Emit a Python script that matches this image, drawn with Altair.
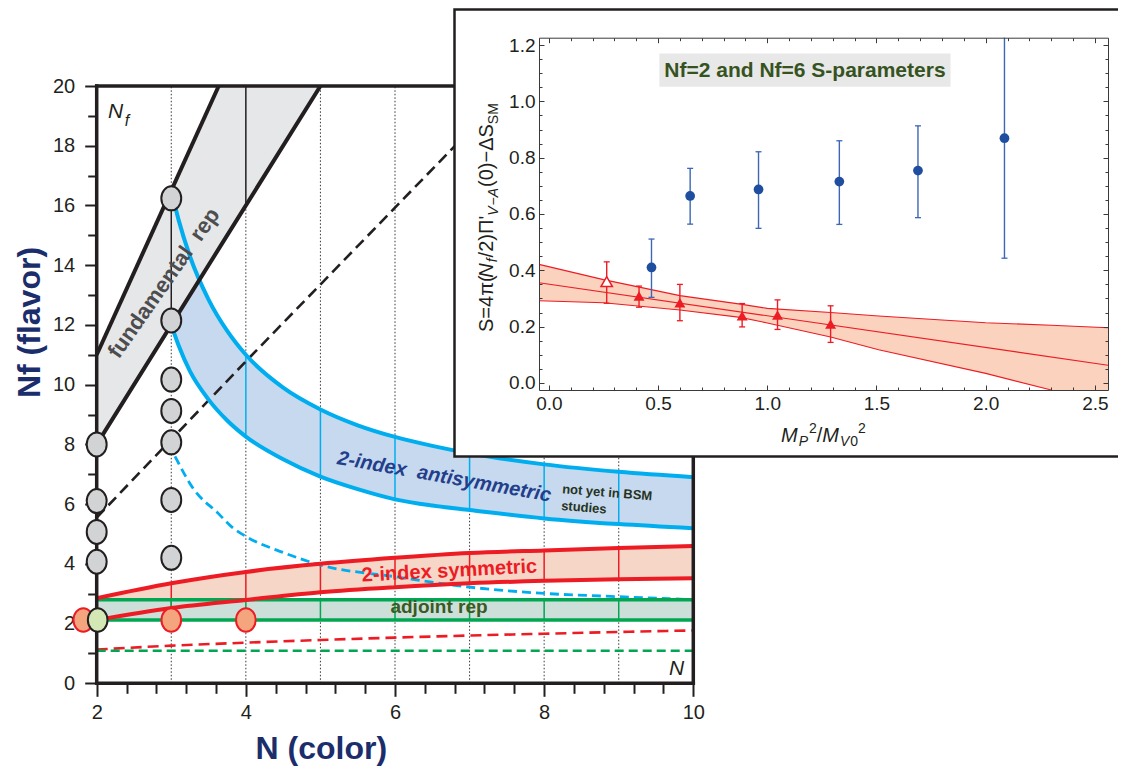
import altair as alt
import pandas as pd

FONT = "Liberation Sans"
INK = "#231f20"
W, H = 1110, 758

# ---------------- main panel: values ----------------
x_ticks = [2, 4, 6, 8, 10]
x_minor = [2.4, 2.8, 3.2, 3.6, 4.4, 4.8, 5.2, 5.6, 6.4, 6.8, 7.2, 7.6, 8.4, 8.8, 9.2, 9.6]
y_ticks = [0, 2, 4, 6, 8, 10, 12, 14, 16, 18, 20]
y_minor = [1, 3, 5, 7, 9, 11, 13, 15, 17, 19]
grid_N = [3, 4, 5, 6, 7, 8, 9]

fund_N = [2.0, 3.636, 5.0]
fund_lo = [8.0, 14.545, 20.0]
fund_up = [11.0, 20.0, 20.0]
fund_dash_N = [2.0, 4.0, 7.0]
fund_dash = [5.55, 10.78, 18.5]
fund_vert_N = [3.0, 4.0]
fund_vert_lo = [12.2, 16.0]
fund_vert_up = [16.2, 20.0]

anti_N = [3.0, 3.1, 3.25, 3.5, 3.75, 4.0, 4.5, 5.0, 5.5, 6.0, 6.5, 7.0, 8.0, 9.0, 10.0]
anti_up = [16.5, 15.5, 14.3, 12.85, 11.8, 11.0, 9.9, 9.17, 8.64, 8.25, 7.95, 7.7, 7.33, 7.08, 6.9]
anti_lo = [12.0, 11.3, 10.45, 9.5, 8.8, 8.26, 7.5, 6.92, 6.5, 6.16, 5.95, 5.8, 5.52, 5.33, 5.19]
anti_dash_N = [3.05, 3.3, 3.63, 3.81, 4.0, 4.5, 5.0, 6.0, 7.0, 8.0, 9.0, 10.0]
anti_dash = [7.6, 6.5, 5.69, 5.24, 4.92, 4.38, 3.96, 3.57, 3.22, 3.01, 2.9, 2.8]
anti_vert_N = [4, 5, 6, 7, 8, 9]

sym_N = [2, 3, 4, 5, 6, 7, 8, 9, 10]
sym_up = [2.85, 3.35, 3.73, 4.0, 4.2, 4.36, 4.45, 4.53, 4.6]
sym_lo = [2.12, 2.52, 2.79, 3.05, 3.22, 3.35, 3.43, 3.48, 3.52]
sym_dash = [1.13, 1.26, 1.36, 1.45, 1.53, 1.6, 1.66, 1.72, 1.77]
sym_vert_N = [3, 4, 5, 6, 7, 8, 9]

adj_N = [2, 3, 4, 5, 6, 7, 8, 9, 10]
adj_up = [2.8] * 9
adj_lo = [2.12] * 9
adj_dash = [1.09] * 9
adj_vert_N = [3, 4, 5, 6, 7, 8, 9]

gray_N = [2, 2, 2, 2, 3, 3, 3, 3, 3, 3, 3]
gray_Nf = [8.0, 6.1, 5.07, 4.07, 16.24, 12.15, 10.17, 9.12, 8.07, 6.14, 4.2]
orange_N = [1.82, 3.0, 4.0]
orange_Nf = [2.12, 2.12, 2.12]
lime_N = [2.013]
lime_Nf = [2.12]

# ---------------- inset: values ----------------
ix_ticks = [0.0, 0.5, 1.0, 1.5, 2.0, 2.5]
iy_ticks = [0.0, 0.2, 0.4, 0.6, 0.8, 1.0, 1.2]
ix_minor = [round(0.1 * i, 2) for i in range(1, 26) if i % 5]
iy_minor = [round(0.05 * i, 2) for i in range(1, 25) if i % 4]

fit_x = [-0.045, 0.25, 0.6, 0.877, 1.0, 1.29, 1.51, 2.0, 2.30, 2.56]
fit_up = [0.421, 0.367, 0.31, 0.28, 0.265, 0.25, 0.238, 0.214, 0.205, 0.196]
fit_lo = [0.292, 0.285, 0.259, 0.233, 0.213, 0.163, 0.118, 0.034, -0.025, -0.025]
fit_mid_x = [-0.045, 2.56]
fit_mid = [0.356, 0.063]

nf6_x = [0.47, 0.647, 0.96, 1.33, 1.69, 2.086]
nf6_y = [0.41, 0.664, 0.687, 0.715, 0.754, 0.869]
nf6_lo = [0.304, 0.564, 0.549, 0.563, 0.587, 0.443]
nf6_hi = [0.511, 0.762, 0.821, 0.86, 0.913, 1.226]

nf2_x = [0.413, 0.60, 0.885, 1.047, 1.29]
nf2_y = [0.309, 0.285, 0.239, 0.241, 0.209]
nf2_lo = [0.269, 0.221, 0.199, 0.19, 0.144]
nf2_hi = [0.344, 0.35, 0.282, 0.295, 0.274]

nf2o_x = [0.265]
nf2o_y = [0.36]
nf2o_lo = [0.283]
nf2o_hi = [0.43]

# ---------------- scales ----------------
MX = alt.Scale(domain=[2, 10], range=[88.7, 685.3], nice=False, zero=False)
MY = alt.Scale(domain=[0, 20], range=[675.3, 78.0], nice=False, zero=False)
IX = alt.Scale(domain=[-0.045, 2.56], range=[531.0, 1100.0], nice=False, zero=False)
IY = alt.Scale(domain=[-0.025, 1.226], range=[382.0, 29.7], nice=False, zero=False)


def mx(f, axis=None):
    return alt.X(f, type="quantitative", scale=MX, axis=axis)


def my(f, axis=None):
    return alt.Y(f, type="quantitative", scale=MY, axis=axis)


def ix(f, axis=None):
    return alt.X(f, type="quantitative", scale=IX, axis=axis)


def iy(f, axis=None):
    return alt.Y(f, type="quantitative", scale=IY, axis=axis)


ONE = pd.DataFrame({"k": [0]})

# ---------------- main axes ----------------
MAIN_X_AXIS = alt.Axis(orient="bottom", offset=-82.7, values=x_ticks, tickSize=13, tickWidth=2,
                       tickColor=INK, domain=False,
                       labelFont=FONT, labelFontSize=20, labelColor=INK, labelPadding=6,
                       labelFlush=False, labelOverlap=False, grid=False, zindex=0,
                       title="N (color)", titleFont=FONT, titleFontSize=32, titleFontWeight="bold",
                       titleColor="#1c2d6b", titleX=312.8, titleY=75.5, titleAlign="center",
                       titleBaseline="alphabetic", titleAngle=0)
MAIN_Y_AXIS = alt.Axis(orient="left", offset=-88.7, values=y_ticks, tickSize=12, tickWidth=2,
                       tickColor=INK, domain=False,
                       labelFont=FONT, labelFontSize=20, labelColor=INK, labelPadding=10,
                       labelOverlap=False, grid=False, zindex=0,
                       title="Nf (flavor)", titleFont=FONT, titleFontSize=32, titleFontWeight="bold",
                       titleColor="#1c2d6b", titleX=-57.2, titleY=314, titleAlign="center",
                       titleBaseline="alphabetic", titleAngle=270)

grid_df = pd.DataFrame({"N": grid_N, "a": [0] * len(grid_N), "b": [20] * len(grid_N)})
fund_df = pd.DataFrame({"N": fund_N, "lo": fund_lo, "up": fund_up})
fund_dash_df = pd.DataFrame({"N": fund_dash_N, "v": fund_dash})
fund_vert_df = pd.DataFrame({"N": fund_vert_N, "lo": fund_vert_lo, "up": fund_vert_up})
anti_df = pd.DataFrame({"N": anti_N, "lo": anti_lo, "up": anti_up})
anti_dash_df = pd.DataFrame({"N": anti_dash_N, "v": anti_dash})
anti_vert_df = anti_df[anti_df["N"].isin(anti_vert_N)]
sym_df = pd.DataFrame({"N": sym_N, "lo": sym_lo, "up": sym_up, "d": sym_dash})
sym_vert_df = sym_df[sym_df["N"].isin(sym_vert_N)]
adj_df = pd.DataFrame({"N": adj_N, "lo": adj_lo, "up": adj_up, "d": adj_dash})
adj_vert_df = adj_df[adj_df["N"].isin(adj_vert_N)]
frame_h = pd.DataFrame({"a": [2, 2], "b": [10, 10], "y": [0, 20]})
frame_v = pd.DataFrame({"x": [2, 10], "a": [0, 0], "b": [20, 20]})
gray_df = pd.DataFrame({"N": gray_N, "Nf": gray_Nf})
orange_df = pd.DataFrame({"N": orange_N, "Nf": orange_Nf})
lime_df = pd.DataFrame({"N": lime_N, "Nf": lime_Nf})

CYAN, BLUEF = "#00aeef", "#c6d9ee"
RED, REDF = "#ed1c24", "#f6d6c7"
GREEN, GREENF = "#00a651", "#cddfd9"
GRAYF = "#e6e7e8"
ELL = "M-0.83,0A0.83,1,0,1,0,0.83,0A0.83,1,0,1,0,-0.83,0Z"

main_layers = [
    alt.Chart(grid_df).mark_rule(color=INK, strokeWidth=0.9, strokeDash=[1.5, 2]).encode(
        x=mx("N"), y=my("a"), y2=alt.Y2("b")),
    alt.Chart(anti_df).mark_area(color=BLUEF, interpolate="monotone").encode(
        x=mx("N"), y=my("lo"), y2=alt.Y2("up")),
    alt.Chart(fund_df).mark_area(color=GRAYF).encode(x=mx("N"), y=my("lo"), y2=alt.Y2("up")),
    alt.Chart(sym_df).mark_area(color=REDF, interpolate="monotone").encode(
        x=mx("N"), y=my("lo"), y2=alt.Y2("up")),
    alt.Chart(adj_df).mark_area(color=GREENF).encode(x=mx("N"), y=my("lo"), y2=alt.Y2("up")),
    alt.Chart(fund_vert_df).mark_rule(color=INK, strokeWidth=1.5).encode(
        x=mx("N"), y=my("lo"), y2=alt.Y2("up")),
    alt.Chart(anti_vert_df).mark_rule(color=CYAN, strokeWidth=1.5).encode(
        x=mx("N"), y=my("lo"), y2=alt.Y2("up")),
    alt.Chart(sym_vert_df).mark_rule(color=RED, strokeWidth=1.5).encode(
        x=mx("N"), y=my("lo"), y2=alt.Y2("up")),
    alt.Chart(adj_vert_df).mark_rule(color=GREEN, strokeWidth=1.5).encode(
        x=mx("N"), y=my("lo"), y2=alt.Y2("up")),
    alt.Chart(fund_dash_df).mark_line(color=INK, strokeWidth=2.6, strokeDash=[11, 6]).encode(
        x=mx("N"), y=my("v")),
    alt.Chart(anti_dash_df).mark_line(color=CYAN, strokeWidth=2.8, strokeDash=[9, 5],
                                      interpolate="monotone").encode(x=mx("N"), y=my("v")),
    alt.Chart(sym_df).mark_line(color=RED, strokeWidth=2.6, strokeDash=[11, 6],
                                interpolate="monotone").encode(x=mx("N"), y=my("d")),
    alt.Chart(adj_df).mark_line(color=GREEN, strokeWidth=2.6, strokeDash=[9, 5]).encode(
        x=mx("N"), y=my("d")),
    alt.Chart(adj_df).mark_line(color=GREEN, strokeWidth=3.5).encode(x=mx("N"), y=my("up")),
    alt.Chart(adj_df).mark_line(color=GREEN, strokeWidth=3.5).encode(x=mx("N"), y=my("lo")),
    alt.Chart(sym_df).mark_line(color=RED, strokeWidth=4, interpolate="monotone").encode(
        x=mx("N"), y=my("up")),
    alt.Chart(sym_df).mark_line(color=RED, strokeWidth=4, interpolate="monotone").encode(
        x=mx("N"), y=my("lo")),
    alt.Chart(anti_df).mark_line(color=CYAN, strokeWidth=4, interpolate="monotone").encode(
        x=mx("N"), y=my("up")),
    alt.Chart(anti_df).mark_line(color=CYAN, strokeWidth=4, interpolate="monotone").encode(
        x=mx("N"), y=my("lo")),
    alt.Chart(fund_df).mark_line(color=INK, strokeWidth=4).encode(x=mx("N"), y=my("lo")),
    alt.Chart(fund_df.iloc[:2]).mark_line(color=INK, strokeWidth=4).encode(x=mx("N"), y=my("up")),
    alt.Chart(frame_h).mark_rule(color=INK, strokeWidth=3.5, strokeCap="square").encode(
        x=mx("a"), x2=alt.X2("b"), y=my("y")),
    alt.Chart(frame_v).mark_rule(color=INK, strokeWidth=3.5, strokeCap="square").encode(
        x=mx("x"), y=my("a"), y2=alt.Y2("b")),
    alt.Chart(gray_df).mark_point(shape=ELL, size=576, filled=True, fill="#d1d3d4", stroke=INK,
                                  strokeWidth=2, opacity=1).encode(x=mx("N"), y=my("Nf")),
    alt.Chart(orange_df).mark_point(shape=ELL, size=560, filled=True, fill="#f4a57e", stroke=RED,
                                    strokeWidth=2, opacity=1).encode(x=mx("N"), y=my("Nf")),
    alt.Chart(lime_df).mark_point(shape=ELL, size=560, filled=True, fill="#d3e8b4", stroke=INK,
                                  strokeWidth=2, opacity=1).encode(x=mx("N"), y=my("Nf")),
]


def mtext(txt, n, nf, **kw):
    df = pd.DataFrame({"N": [n], "Nf": [nf], "t": [txt]})
    return alt.Chart(df).mark_text(font=FONT, **kw).encode(x=mx("N"), y=my("Nf"), text="t:N")


main_layers += [
    mtext("fundamental\u00a0 rep", 2.90, 13.4, fontSize=22, fontWeight="bold", color="#4d4d4f",
          angle=305, align="center", baseline="middle"),
    mtext("2-index\u00a0 antisymmetric", 6.66, 6.91, fontSize=20, fontWeight="bold",
          fontStyle="italic", color="#233e8b", angle=10, align="center", baseline="middle"),
    mtext("not yet in BSM", 8.242, 6.50, fontSize=13, fontWeight="bold", color="#26331f",
          angle=4.6, align="left", baseline="middle"),
    mtext("studies", 8.229, 5.94, fontSize=13, fontWeight="bold", color="#26331f",
          angle=4.6, align="left", baseline="middle"),
    mtext("2-index symmetric", 6.73, 3.76, fontSize=20, fontWeight="bold", color=RED,
          angle=357, align="center", baseline="middle"),
    mtext("adjoint rep", 6.59, 2.55, fontSize=19, fontWeight="bold", color="#3a5a24",
          align="center", baseline="middle"),
    mtext("N", 2.151, 18.93, fontSize=21, fontStyle="italic", color=INK, align="left",
          baseline="alphabetic"),
    mtext("f", 2.375, 18.66, fontSize=16, fontStyle="italic", color=INK, align="left",
          baseline="alphabetic"),
    mtext("N", 9.876, 0.28, fontSize=21, fontStyle="italic", color=INK, align="right",
          baseline="alphabetic"),
]
main = alt.layer(*main_layers)

AXDF = pd.DataFrame({"x": [2.0], "y": [0.0]})
# main axes: labelled major ticks, then minor ticks (independent copies of the same scales)
main_axes = alt.Chart(AXDF).mark_point(opacity=0).encode(
    x=mx("x", MAIN_X_AXIS), y=my("y", MAIN_Y_AXIS))
main_minor = alt.Chart(AXDF).mark_point(opacity=0).encode(
    x=mx("x", alt.Axis(orient="bottom", offset=-82.7, values=x_minor, tickSize=10, tickWidth=2,
                        tickColor=INK, labels=False, domain=False, grid=False, title=None,
                        zindex=0)),
    y=my("y", alt.Axis(orient="left", offset=-88.7, values=y_minor, tickSize=9, tickWidth=2,
                        tickColor=INK, labels=False, domain=False, grid=False, title=None,
                        zindex=0)),
)

# ---------------- inset ----------------
inset_box = alt.Chart(ONE).mark_rect(fill="white", stroke=INK, strokeWidth=2.5).encode(
    x=alt.value(446.5), x2=alt.value(1125), y=alt.value(1.5), y2=alt.value(448.5))

FR = "#3a3a3a"
INS_X_AXIS = alt.Axis(orient="bottom", offset=-376, values=ix_ticks, format=".1f", ticks=False,
                      domainColor=FR, domainWidth=1, labelFont=FONT, labelFontSize=19,
                      labelColor=INK, labelPadding=4, labelFlush=False, labelOverlap=False,
                      grid=False, title=None, zindex=2)
INS_Y_AXIS = alt.Axis(orient="left", offset=-531, values=iy_ticks, format=".1f", ticks=False,
                      domainColor=FR, domainWidth=1, labelFont=FONT, labelFontSize=19,
                      labelColor=INK, labelPadding=4, labelOverlap=False, grid=False,
                      title=None, zindex=2)

fit_df = pd.DataFrame({"x": fit_x, "lo": fit_lo, "up": fit_up})
fit_mid_df = pd.DataFrame({"x": fit_mid_x, "v": fit_mid})
nf6_df = pd.DataFrame({"x": nf6_x, "y": nf6_y, "lo": nf6_lo, "hi": nf6_hi})
nf2_df = pd.DataFrame({"x": nf2_x, "y": nf2_y, "lo": nf2_lo, "hi": nf2_hi})
nf2o_df = pd.DataFrame({"x": nf2o_x, "y": nf2o_y, "lo": nf2o_lo, "hi": nf2o_hi})
nf6_caps = pd.DataFrame({"x": nf6_x + nf6_x[:-1], "c": nf6_lo + nf6_hi[:-1]})
nf2_caps = pd.DataFrame({"x": nf2_x + nf2o_x + nf2_x + nf2o_x,
                         "c": nf2_lo + nf2o_lo + nf2_hi + nf2o_hi})
title_box = pd.DataFrame({"a": [0.506], "b": [1.839], "c": [1.052], "d": [1.170]})
title_txt = pd.DataFrame({"x": [1.1725], "y": [1.085], "t": ["Nf=2 and Nf=6 S-parameters"]})

BLUE, BLUEBAR = "#1f4e9f", "#3d66b5"
inset = alt.layer(
    alt.Chart(fit_df).mark_area(color="#fbd2be").encode(x=ix("x"), y=iy("lo"), y2=alt.Y2("up")),
    alt.Chart(fit_df).mark_line(color=RED, strokeWidth=1.1).encode(x=ix("x"), y=iy("up")),
    alt.Chart(fit_df.iloc[:-1]).mark_line(color=RED, strokeWidth=1.1).encode(x=ix("x"), y=iy("lo")),
    alt.Chart(fit_mid_df).mark_line(color=RED, strokeWidth=1.1).encode(x=ix("x"), y=iy("v")),
    alt.Chart(title_box).mark_rect(color="#e7e8e7").encode(
        x=ix("a"), x2=alt.X2("b"), y=iy("c"), y2=alt.Y2("d")),
    alt.Chart(title_txt).mark_text(font=FONT, fontSize=21, fontWeight="bold", color="#36531f",
                                   align="center", baseline="alphabetic").encode(
        x=ix("x"), y=iy("y"), text="t:N"),
    alt.Chart(nf6_df).mark_rule(color=BLUEBAR, strokeWidth=1.4).encode(
        x=ix("x"), y=iy("lo"), y2=alt.Y2("hi")),
    alt.Chart(nf6_caps).mark_tick(color=BLUEBAR, orient="horizontal", size=6, thickness=1.3,
                                  opacity=1).encode(x=ix("x"), y=iy("c")),
    alt.Chart(nf6_df).mark_point(shape="circle", size=95, filled=True, color=BLUE,
                                 opacity=1).encode(x=ix("x"), y=iy("y")),
    alt.Chart(nf2_df).mark_rule(color=RED, strokeWidth=1.4).encode(
        x=ix("x"), y=iy("lo"), y2=alt.Y2("hi")),
    alt.Chart(nf2o_df).mark_rule(color=RED, strokeWidth=1.4).encode(
        x=ix("x"), y=iy("lo"), y2=alt.Y2("hi")),
    alt.Chart(nf2_caps).mark_tick(color=RED, orient="horizontal", size=6, thickness=1.3,
                                  opacity=1).encode(x=ix("x"), y=iy("c")),
    alt.Chart(nf2_df).mark_point(shape="triangle-up", size=120, filled=True, color=RED,
                                 opacity=1).encode(x=ix("x"), y=iy("y")),
    alt.Chart(nf2o_df).mark_point(shape="triangle-up", size=130, filled=True, fill="white",
                                  stroke=RED, strokeWidth=1.5, opacity=1).encode(
        x=ix("x"), y=iy("y")),
)

inset_axes = alt.Chart(pd.DataFrame({"x": [1.0], "y": [0.5]})).mark_point(opacity=0).encode(
    x=ix("x", INS_X_AXIS), y=iy("y", INS_Y_AXIS))


def tick_layer(xorient, xoff, xvals, yorient, yoff, yvals, size, domain):
    common = dict(tickSize=size, tickWidth=1, tickColor=FR, labels=False, domain=domain,
                  domainColor=FR, domainWidth=1, grid=False, title=None, zindex=2)
    return alt.Chart(pd.DataFrame({"x": [1.0], "y": [0.5]})).mark_point(opacity=0).encode(
        x=ix("x", alt.Axis(orient=xorient, offset=xoff, values=xvals, **common)),
        y=iy("y", alt.Axis(orient=yorient, offset=yoff, values=yvals, **common)),
    )


inset_ticks = [
    tick_layer("top", -382, ix_ticks, "right", -579, iy_ticks, 5, False),
    tick_layer("top", -382, ix_minor, "right", -579, iy_minor, 3, False),
    tick_layer("bottom", -728.3, ix_ticks, "left", -1100, iy_ticks, 5, True),
    tick_layer("bottom", -728.3, ix_minor, "left", -1100, iy_minor, 3, False),
]

# ---------------- inset axis titles (pieces for sub/superscripts) ----------------
AW = {"S": 667, "=": 584, "4": 556, "π": 573, "(": 333, ")": 333, "N": 722, "f": 278, "/": 278,
      "2": 556, "Π": 722, "'": 191, "V": 667, "−": 584, "A": 667, "0": 556, "Δ": 668, "M": 833,
      "P": 667}


def tw(s, size):
    return sum(AW.get(c, 556) for c in s) / 1000.0 * size


def piece(txt, px, py, size, style, angle):
    return alt.Chart(ONE).mark_text(font=FONT, fontSize=size, fontStyle=style, color=INK,
                                    angle=angle, align="left", baseline="alphabetic").encode(
        x=alt.value(px), y=alt.value(py), text=alt.value(txt))


ytitle_pieces = [("S=4π(", 20, "normal", 0), ("N", 20, "italic", 0), ("f", 14, "italic", 4),
                 ("/2)Π'", 20, "normal", 0), ("V", 14, "italic", 5), ("−", 14, "normal", 5),
                 ("A", 14, "italic", 5), ("(0)−ΔS", 20, "normal", 0), ("SM", 14, "normal", 5)]
xtitle_pieces = [("M", 20, "italic", 0), ("P", 14, "italic", 4), ("2", 14, "normal", -9),
                 ("/", 20, "normal", 0), ("M", 20, "italic", 0), ("V", 14, "italic", 4),
                 ("0", 14, "normal", 4), ("2", 14, "normal", -9)]

title_layers = []
cur = 324.0
for t, s, st, sh in ytitle_pieces:
    title_layers.append(piece(t, 485.0 + sh, cur, s, st, 270))
    cur -= tw(t, s) + (1.0 if st == "italic" else 0.0)
cur = 773.0
for t, s, st, sh in xtitle_pieces:
    title_layers.append(piece(t, cur, 433.7 + sh, s, st, 0))
    cur += tw(t, s) + (1.0 if st == "italic" else 0.0)

chart = alt.layer(
    main_axes, main_minor, main, inset_box, inset, inset_axes, *inset_ticks, *title_layers
).resolve_scale(x="independent", y="independent").properties(
    width=W, height=H, padding=0, background="white",
    autosize=alt.AutoSizeParams(type="none"),
).configure_view(strokeWidth=0)

chart.save("out.html", embed_options={"renderer": "svg", "actions": False})
